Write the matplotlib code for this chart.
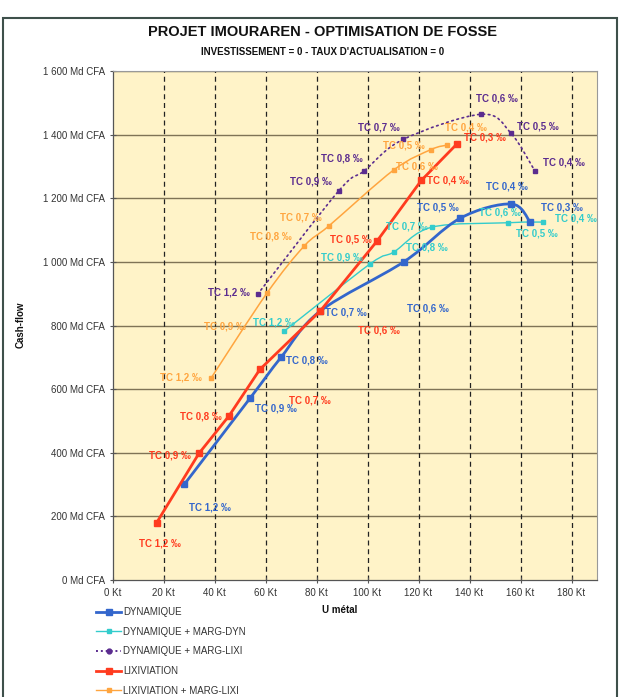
import matplotlib
matplotlib.use("Agg")
import matplotlib.pyplot as plt
from matplotlib.path import Path
from matplotlib.patches import PathPatch, Rectangle
from matplotlib.lines import Line2D
import numpy as np

plt.rcParams['font.family'] = ['Liberation Sans', 'DejaVu Sans']

# ---- data (U métal in Kt, Cash-flow in Md CFA) ----
tc_dyn = ["1,2", "0,9", "0,8", "0,7", "0,6", "0,5", "0,4", "0,3"]
x_dyn = [28.2, 53.9, 66.1, 81.4, 114.4, 136.3, 156.4, 163.8]
y_dyn = [301, 571, 700, 845, 1001, 1137, 1182, 1125]

tc_dmd = ["1,2", "0,9", "0,8", "0,7", "0,6", "0,5", "0,4"]
x_dmd = [67.3, 100.9, 110.3, 125.2, 155.2, 163.8, 168.9]
y_dmd = [782, 993, 1031, 1109, 1123, 1125, 1125]

tc_dml = ["1,2", "0,9", "0,8", "0,7", "0,6", "0,5", "0,4"]
x_dml = [56.9, 88.7, 98.7, 114.0, 144.7, 156.2, 165.7]
y_dml = [898, 1223, 1286, 1385, 1464, 1405, 1285]

tc_lix = ["1,2", "0,9", "0,8", "0,7", "0,6", "0,5", "0,4", "0,3"]
x_lix = [17.3, 33.9, 45.7, 57.8, 81.4, 103.7, 121.1, 135.1]
y_lix = [180, 398, 516, 662, 845, 1065, 1256, 1371]

tc_lml = ["1,2", "0,9", "0,8", "0,7", "0,6", "0,5", "0,4"]
x_lml = [38.6, 60.5, 75.2, 85.0, 110.3, 124.9, 131.2]
y_lml = [634, 901, 1050, 1114, 1289, 1353, 1367]

series_names = ["DYNAMIQUE", "DYNAMIQUE + MARG-DYN", "DYNAMIQUE + MARG-LIXI",
                "LIXIVIATION", "LIXIVIATION + MARG-LIXI"]
x_ticks = [0, 20, 40, 60, 80, 100, 120, 140, 160, 180]
y_ticks = [0, 200, 400, 600, 800, 1000, 1200, 1400, 1600]

# ---- label offsets (pixels, x right / y down) ----
off_dyn = [(26, 23), (26, 10), (26, 3), (26, 1), (24, 47), (-22, -11), (-4, -17), (32, -15)]
off_dmd = [(-10, -9), (-28, -7), (33, -5), (-25, -1), (-8, -10), (7, 11), (33, -4)]
off_dml = [(-29, -2), (-28, -9), (-22, -12), (-24, -12), (15, -16), (27, -7), (29, -9)]
off_lix = [(3, 21), (-29, 2), (-28, 1), (50, 31), (59, 19), (-26, -2), (27, 0), (28, -6)]
off_lml = [(-30, -1), (-42, 33), (-33, -9), (-28, -8), (23, -3), (-27, -4), (19, -18)]

C_DYN = "#3366CC"
C_DMD = "#33CCCC"
C_DML = "#5B2C8F"
C_LIX = "#FF3B1F"
C_LML = "#FFA53F"

W, H = 623, 697
fig = plt.figure(figsize=(W / 100, H / 100), dpi=100)
fig.patch.set_facecolor("white")

ax = fig.add_axes([112.5 / W, 1 - 580 / H, (597 - 112.5) / W, (580 - 71) / H])
ax.set_facecolor("#FFF3C8")
ax.set_xlim(0, 190)
ax.set_ylim(0, 1600)

ax.set_xticks(x_ticks)
ax.set_xticklabels([f"{v} Kt" for v in x_ticks])
ax.set_yticks(y_ticks)
ax.set_yticklabels([(f"{v // 1000} {v % 1000:03d}" if v >= 1000 else f"{v}") + " Md CFA" for v in y_ticks])
ax.tick_params(direction="inout", length=5, width=0.8, color="#555555",
               labelsize=7, labelcolor="#333333", pad=3)

for v in y_ticks[1:]:
    ax.axhline(v, color="#7F7356", lw=1.0, zorder=1)
for v in x_ticks[1:]:
    ax.axvline(v, color="#222222", lw=0.9, ls=(0, (4, 3)), zorder=1)

for s in ["left", "bottom"]:
    ax.spines[s].set_color("#555555")
    ax.spines[s].set_linewidth(0.9)
for s in ["top", "right"]:
    ax.spines[s].set_color("#999999")
    ax.spines[s].set_linewidth(0.8)


def smooth_path(xs, ys):
    pts = np.column_stack([xs, ys]).astype(float)
    n = len(pts)
    verts = [pts[0]]
    codes = [Path.MOVETO]
    for i in range(n - 1):
        p0 = pts[i - 1] if i > 0 else pts[i]
        p1 = pts[i]
        p2 = pts[i + 1]
        p3 = pts[i + 2] if i + 2 < n else pts[i + 1]
        c1 = p1 + (p2 - p0) / 6.0
        c2 = p2 - (p3 - p1) / 6.0
        verts += [c1, c2, p2]
        codes += [Path.CURVE4] * 3
    return Path(verts, codes)


def draw(xs, ys, color, lw, ms, smooth, ls="-", z=3):
    if smooth:
        patch = PathPatch(smooth_path(xs, ys), fill=False, edgecolor=color, lw=lw,
                          ls=ls, capstyle="round", zorder=z)
        ax.add_patch(patch)
    else:
        ax.plot(xs, ys, color=color, lw=lw, ls=ls, zorder=z)
    ax.plot(xs, ys, ls="none", marker="s", ms=ms, color=color, zorder=z + 0.5)


draw(x_dmd, y_dmd, C_DMD, 1.0, 3.0, True, z=3)
draw(x_dml, y_dml, C_DML, 1.2, 3.5, True, ls=(0, (1, 2.2)), z=3)
draw(x_lml, y_lml, C_LML, 1.1, 3.0, True, z=3)
draw(x_dyn, y_dyn, C_DYN, 2.0, 4.5, True, z=4)
draw(x_lix, y_lix, C_LIX, 2.0, 5.0, False, z=5)


def labels(xs, ys, tcs, offs, color):
    for x, y, t, (dx, dy) in zip(xs, ys, tcs, offs):
        ax.annotate(f"TC {t} \u2030", (x, y), xytext=(dx * 0.72, -dy * 0.72),
                    textcoords="offset points", ha="center", va="center",
                    fontsize=7, fontweight="bold", color=color, zorder=6,
                    annotation_clip=False)


labels(x_dyn, y_dyn, tc_dyn, off_dyn, C_DYN)
labels(x_dmd, y_dmd, tc_dmd, off_dmd, C_DMD)
labels(x_dml, y_dml, tc_dml, off_dml, C_DML)
labels(x_lix, y_lix, tc_lix, off_lix, C_LIX)
labels(x_lml, y_lml, tc_lml, off_lml, C_LML)

fig.text(323 / W, 1 - 32 / H, "PROJET IMOURAREN - OPTIMISATION DE FOSSE",
         ha="center", va="center", fontsize=10.5, fontweight="bold", color="#111111")
fig.text(323 / W, 1 - 52 / H, "INVESTISSEMENT = 0 - TAUX D'ACTUALISATION = 0",
         ha="center", va="center", fontsize=7, fontweight="bold", color="#111111")
fig.text(21 / W, 1 - 325 / H, "Cash-flow", rotation=90, ha="center", va="center",
         fontsize=7, fontweight="bold", color="#111111")
fig.text(340 / W, 1 - 610 / H, "U métal", ha="center", va="center",
         fontsize=7, fontweight="bold", color="#111111")

handles = [
    Line2D([], [], color=C_DYN, lw=2.0, marker="s", ms=4.5),
    Line2D([], [], color=C_DMD, lw=1.0, marker="s", ms=3.0),
    Line2D([], [], color=C_DML, lw=1.4, ls=(0, (1, 1.5)), marker="o", ms=3.5),
    Line2D([], [], color=C_LIX, lw=2.0, marker="s", ms=5.0),
    Line2D([], [], color=C_LML, lw=1.0, marker="s", ms=3.0),
]
fig.legend(handles, series_names, loc="upper left", bbox_to_anchor=(96 / W, 1 - 607 / H),
           frameon=False, fontsize=7, labelcolor="#333333", borderpad=0, borderaxespad=0,
           handlelength=2.6, handletextpad=0.2, labelspacing=1.0)

fig.add_artist(Rectangle((3 / W, -0.01), (617 - 3) / W, 1 - 18 / H + 0.01,
                         transform=fig.transFigure, fill=False,
                         edgecolor="#3E504B", lw=1.5, zorder=0))

fig.savefig("out.png", dpi=100)
